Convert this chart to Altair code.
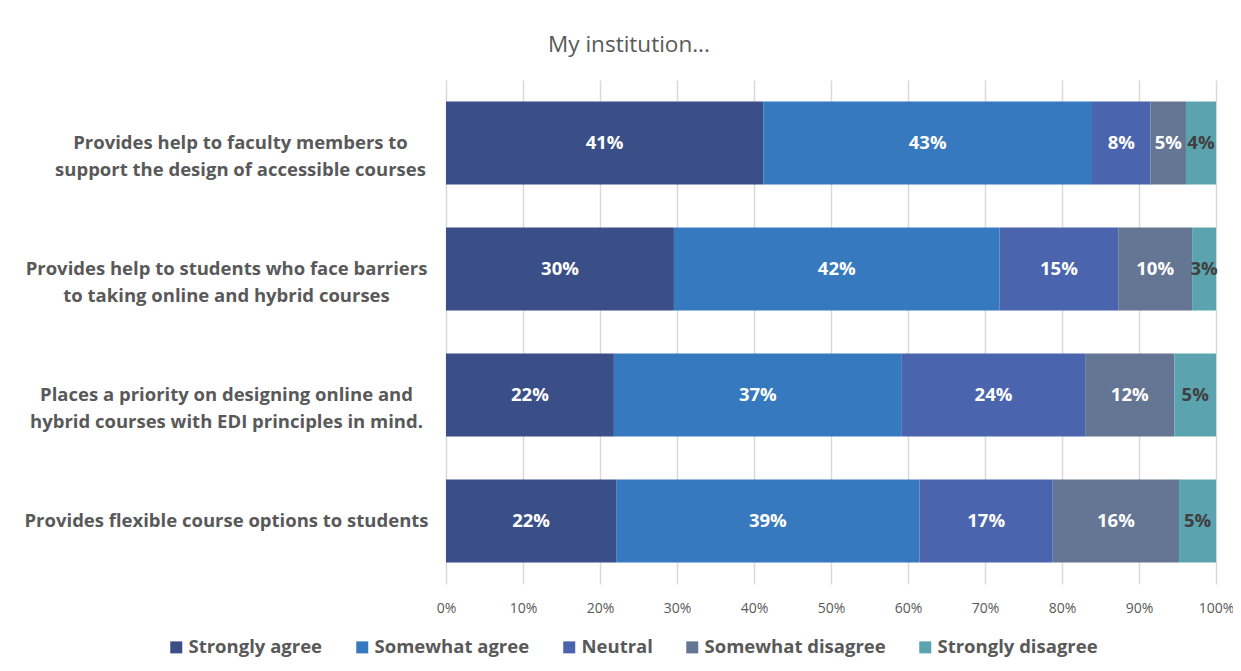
import altair as alt
import pandas as pd

statements = [
    "Provides help to faculty members to|support the design of accessible courses",
    "Provides help to students who face barriers|to taking online and hybrid courses",
    "Places a priority on designing online and|hybrid courses with EDI principles in mind.",
    "Provides flexible course options to students",
]
responses = ["Strongly agree", "Somewhat agree", "Neutral", "Somewhat disagree", "Strongly disagree"]
colors = ["#3A4F87", "#3679BE", "#4A64AE", "#657694", "#5BA3AE"]

strongly_agree = [41.2, 29.6, 21.8, 22.1]
somewhat_agree = [42.7, 42.3, 37.4, 39.4]
neutral = [7.6, 15.4, 23.8, 17.3]
somewhat_disagree = [4.6, 9.6, 11.6, 16.4]
strongly_disagree = [3.9, 3.1, 5.4, 4.8]

series = [strongly_agree, somewhat_agree, neutral, somewhat_disagree, strongly_disagree]
rows = []
for ri, resp in enumerate(responses):
    for si, st in enumerate(statements):
        v = series[ri][si]
        rows.append({
            "statement": st,
            "response": resp,
            "rank": ri,
            "value": v / 100.0,
            "label": f"{int(v + 0.5):d}%",
            "dark": resp == "Strongly disagree",
        })
df = pd.DataFrame(rows)

FONT = "Open Sans"
GREY = "#595959"

base = alt.Chart(df).encode(
    y=alt.Y(
        "statement:N",
        sort=statements,
        title=None,
        scale=alt.Scale(paddingInner=0.34, paddingOuter=0.17),
        axis=alt.Axis(
            labelExpr="split(datum.label, '|')",
            labelAlign="center",
            labelBaseline="middle",
            labelPadding={
                "condition": {"test": "indexof(datum.value, 'faculty') >= 0", "value": 206},
                "value": 220,
            },
            labelFontSize=18.5,
            labelFontWeight="bold",
            labelColor=GREY,
            labelFont=FONT,
            labelLineHeight=27,
            labelLimit=500,
            ticks=False,
            domain=False,
            grid=False,
        ),
    ),
)

bars = base.mark_bar(strokeWidth=0).encode(
    x=alt.X(
        "value:Q",
        stack="zero",
        title=None,
        scale=alt.Scale(domain=[0, 1], nice=False),
        axis=alt.Axis(
            format=".0%",
            values=[i / 10 for i in range(11)],
            labelFontSize=14,
            labelColor=GREY,
            labelFont=FONT,
            labelPadding=17,
            labelFlush=False,
            ticks=False,
            domain=False,
            grid=True,
            gridColor="#D9D9D9",
            gridWidth=1.5,
        ),
    ),
    color=alt.Color(
        "response:N",
        sort=responses,
        scale=alt.Scale(domain=responses, range=colors),
        legend=alt.Legend(
            title=None,
            orient="none",
            direction="horizontal",
            legendX=-279,
            legendY=558,
            symbolType="square",
            symbolSize=144,
            symbolStrokeWidth=0,
            labelFontSize=18.5,
            labelFontWeight="bold",
            labelColor=GREY,
            labelFont=FONT,
            labelLimit=400,
            columnPadding=30,
            symbolOffset=0,
            labelOffset=3,
        ),
    ),
    order=alt.Order("rank:Q", sort="ascending"),
)

texts = base.mark_text(fontSize=18.5, fontWeight="bold", font=FONT).encode(
    x=alt.X("value:Q", stack="zero", bandPosition=0.5),
    text="label:N",
    color=alt.condition("datum.dark", alt.value("#404040"), alt.value("white")),
    order=alt.Order("rank:Q", sort="ascending"),
)

chart = (
    alt.layer(bars, texts)
    .properties(
        width=770,
        height=504,
        autosize=alt.AutoSizeParams(type="none"),
        padding={"left": 438, "top": 72, "right": 17, "bottom": 79},
        title=alt.TitleParams(
            "My institution...",
            fontSize=22.5,
            fontWeight="normal",
            color=GREY,
            font=FONT,
            anchor="middle",
            dx=-202,
            offset=24,
        ),
    )
    .configure_view(stroke=None)
)

chart.save("out.html", embed_options={"renderer": "svg", "actions": False})
